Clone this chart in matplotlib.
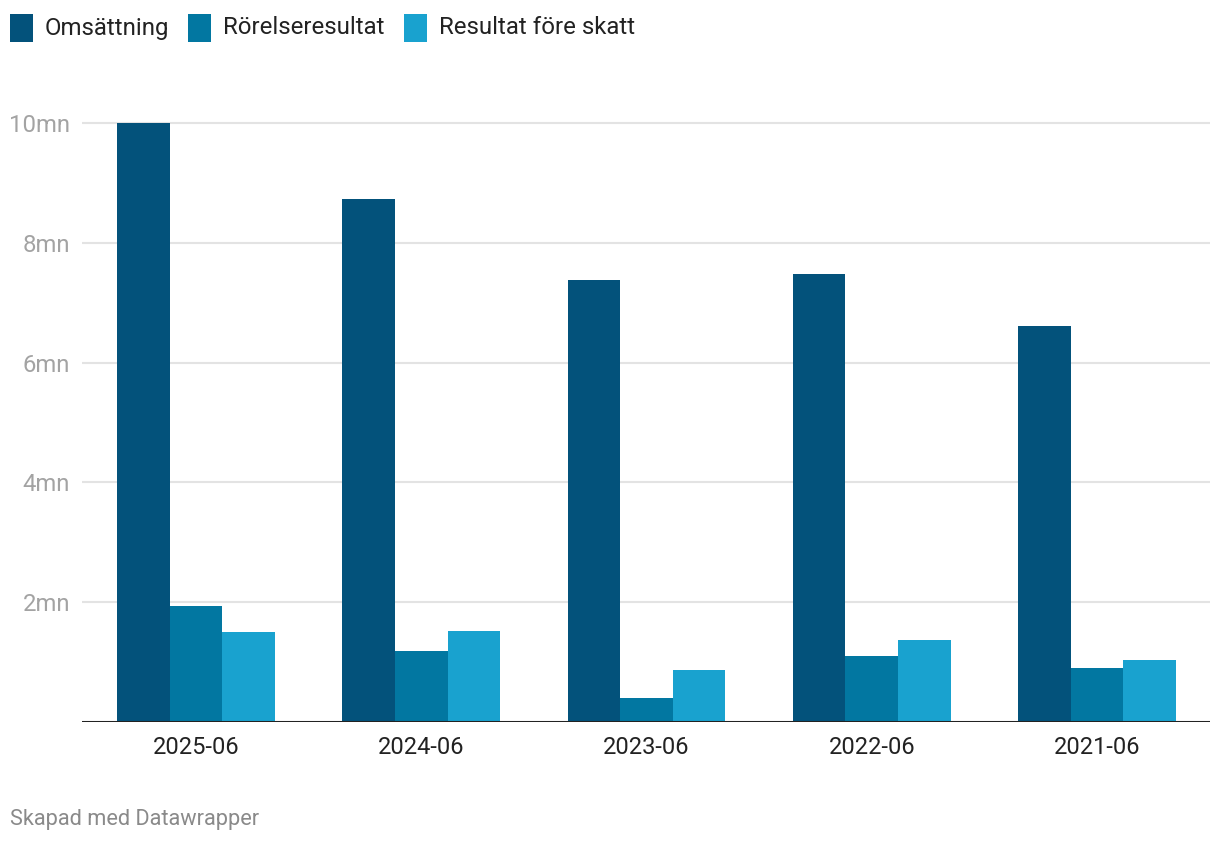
import matplotlib.pyplot as plt
import numpy as np
from matplotlib.patches import Rectangle

# Data (values in millions)
periods = ['2025-06', '2024-06', '2023-06', '2022-06', '2021-06']
series = ['Omsättning', 'Rörelseresultat', 'Resultat före skatt']
omsattning = [10.0, 8.73, 7.38, 7.48, 6.61]
rorelseresultat = [1.94, 1.19, 0.40, 1.10, 0.90]
resultat_fore_skatt = [1.50, 1.52, 0.87, 1.37, 1.04]
yticks = [2, 4, 6, 8, 10]

colours = ['#03527b', '#0277a1', '#19a2cf']
plt.rcParams['font.family'] = ['Roboto', 'DejaVu Sans']

W, H = 1220, 844
fig = plt.figure(figsize=(W / 100, H / 100), dpi=100)
fig.patch.set_facecolor('white')

# Axes placed in pixel terms
left, right, bottom = 82, 1210, 722
top = 111
ax = fig.add_axes([left / W, 1 - bottom / H, (right - left) / W, (bottom - top) / H])

x = np.arange(len(periods))
width = 0.2335
values = [omsattning, rorelseresultat, resultat_fore_skatt]
for i, (vals, col) in enumerate(zip(values, colours)):
    ax.bar(x + (i - 1) * width, vals, width=width, color=col, zorder=2, linewidth=0)

ax.set_xlim(-0.506, 4.502)
ax.set_ylim(0, 10.2)

# Grid
for yv in yticks:
    ax.axhline(yv, color='#e3e3e3', linewidth=1.5, zorder=1)
ax.axhline(0, color='#222222', linewidth=2.2, zorder=3)

ax.set_yticks(yticks)
ax.set_yticklabels([f'{v}mn' for v in yticks])
ax.set_xticks(x)
ax.set_xticklabels(periods)
ax.tick_params(axis='y', length=0, pad=8.5, labelsize=17.2, labelcolor='#a3a3a3')
ax.tick_params(axis='x', length=0, pad=10, labelsize=17, labelcolor='#222222')
for s in ax.spines.values():
    s.set_visible(False)

# Legend drawn by hand across the top
fig.canvas.draw()
renderer = fig.canvas.get_renderer()
xpos = 10
for name, col in zip(series, colours):
    fig.patches.append(Rectangle((xpos / W, 1 - 42 / H), 23 / W, 28 / H,
                                 transform=fig.transFigure, facecolor=col, linewidth=0))
    t = fig.text((xpos + 35) / W, 1 - 28 / H, name, fontsize=17.3, color='#222222',
                 ha='left', va='center')
    bb = t.get_window_extent(renderer)
    xpos = bb.x1 + 19

# Footer
fig.text(10 / W, 1 - 820 / H, 'Skapad med Datawrapper', fontsize=15.7, color='#8a8a8a',
         ha='left', va='center')

fig.savefig('out.png', dpi=100)
